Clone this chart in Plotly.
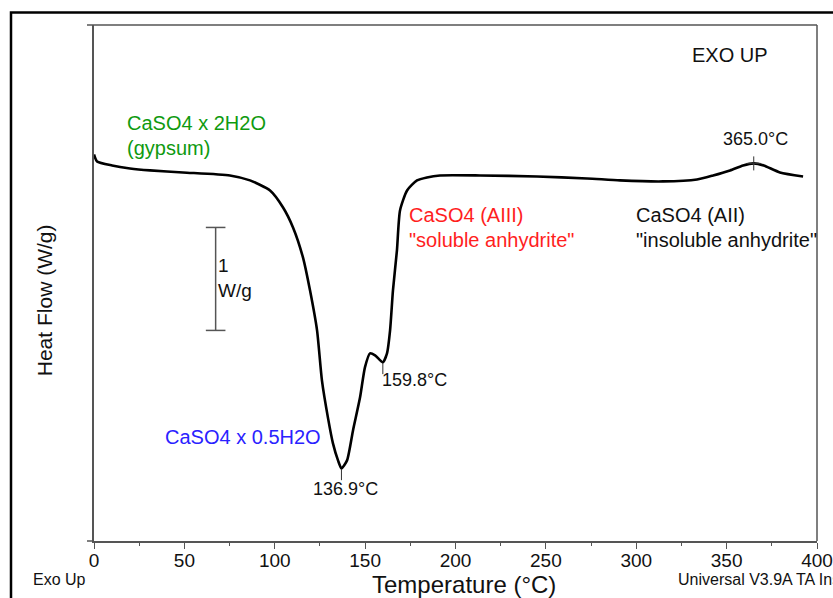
import plotly.graph_objects as go

# ---- data (temperature in °C, heat flow in W/g, arbitrary offset) ----
temperature = [0.0, 1.7, 10.0, 19.9, 31.0, 49.2, 75.2, 86.3, 97.4, 104.6, 110.1, 115.6, 119.5,
               123.4, 126.1, 129.5, 132.2, 135.0, 136.9, 140.0, 143.3, 147.2, 149.9, 152.7,
               155.5, 159.8, 162.1, 163.8, 165.4, 167.6, 169.3, 173.2, 178.7, 184.2, 191.4,
               213.6, 245.1, 272.8, 291.0, 314.8, 333.6, 342.5, 351.9, 359.1, 365.0, 370.5,
               379.5, 392.3]
heat_flow = [0.233, 0.165, 0.126, 0.097, 0.078, 0.058, 0.029, -0.019, -0.117, -0.282, -0.476,
             -0.767, -1.087, -1.476, -1.961, -2.330, -2.573, -2.738, -2.816, -2.738, -2.447,
             -2.126, -1.835, -1.699, -1.718, -1.786, -1.699, -1.476, -1.087, -0.699, -0.311,
             -0.117, -0.019, 0.010, 0.029, 0.029, 0.019, 0.000, -0.019, -0.029, -0.010, 0.029,
             0.078, 0.126, 0.146, 0.126, 0.058, 0.019]

peak_T = [136.9, 159.8, 365.0]
peak_HF = [-2.816, -1.786, 0.146]
peak_labels = ["136.9°C", "159.8°C", "365.0°C"]

scale_T = [67.3, 67.3]
scale_HF = [-0.476, -1.476]   # 1 W/g scale bar

x_ticks = [0, 50, 100, 150, 200, 250, 300, 350, 400]
x_minor = [25, 75, 125, 175, 225, 275, 325, 375]
x_range = [0, 400]
y_range = [-3.521, 1.490]

FONT = "Liberation Sans, Arial, sans-serif"
AX = "#555555"

W, H = 833, 598
L, R, T, B = 94, 817, 24.5, 541


def px(x):
    return (x - L) / (R - L)


def py(y):
    return (B - y) / (B - T)


fig = go.Figure()

fig.add_trace(go.Scatter(x=temperature, y=heat_flow, mode="lines",
                         line=dict(color="black", width=2.6, shape="spline", smoothing=0.6),
                         hoverinfo="x+y", showlegend=False))

# peak markers
fig.add_trace(go.Scatter(x=peak_T[2:], y=peak_HF[2:], mode="markers",
                         marker=dict(symbol="cross-thin", size=10, line=dict(color="#333", width=1)),
                         showlegend=False, hoverinfo="skip"))
fig.add_trace(go.Scatter(x=peak_T[:2], y=[v - 0.06 for v in peak_HF[:2]], mode="markers",
                         marker=dict(symbol="line-ns", size=8, line=dict(color="#333", width=1)),
                         showlegend=False, hoverinfo="skip"))

# scale bar
fig.add_trace(go.Scatter(x=scale_T, y=scale_HF, mode="lines+markers",
                         line=dict(color=AX, width=1.5),
                         marker=dict(symbol="line-ew", size=14, line=dict(color=AX, width=1.5)),
                         showlegend=False, hoverinfo="skip"))

ann = []


def text(x, y, s, color="#111", size=18, xanchor="left"):
    ann.append(dict(x=px(x), y=py(y), xref="paper", yref="paper", text=s, showarrow=False,
                    xanchor=xanchor, yanchor="middle", font=dict(family=FONT, size=size, color=color)))


GREEN = "#0f9a0f"
BLUE = "#2a22ff"
RED = "#ff1e1e"

text(125, 123, "CaSO4 x 2H2O", GREEN, 20)
text(125, 148, "(gypsum)", GREEN, 20)
text(163, 437, "CaSO4 x 0.5H2O", BLUE, 20)
text(407, 215, "CaSO4 (AIII)", RED, 20)
text(407, 240, "\"soluble anhydrite\"", RED, 20)
text(634, 215, "CaSO4 (AII)", "#111", 20)
text(634, 240, "\"insoluble anhydrite\"", "#111", 20)
text(690, 55, "EXO UP", "#111", 20)
text(755, 139, peak_labels[2], "#111", 18, "center")
text(380, 380, peak_labels[1], "#111", 18)
text(345, 489, peak_labels[0], "#111", 18, "center")
text(216, 265, "1", "#111", 19)
text(216, 290, "W/g", "#111", 19)
text(31, 580, "Exo Up", "#111", 16)
text(676, 580, "Universal V3.9A TA Instruments", "#111", 16)
ann.append(dict(x=px(44), y=py(300), xref="paper", yref="paper", text="Heat Flow (W/g)",
                showarrow=False, textangle=-90, xanchor="center", yanchor="middle",
                font=dict(family=FONT, size=21, color="#111")))
ann.append(dict(x=px(464), y=py(585), xref="paper", yref="paper", text="Temperature (°C)",
                showarrow=False, xanchor="center", yanchor="middle",
                font=dict(family=FONT, size=24, color="#111")))

shapes = [
    # outer black frame
    dict(type="rect", xref="paper", yref="paper", x0=px(11), x1=px(845), y0=py(620), y1=py(12),
         line=dict(color="black", width=2.5)),
    # plot-area border with small overhang on the left
    dict(type="line", xref="paper", yref="paper", x0=px(87), x1=1, y0=1, y1=1,
         line=dict(color=AX, width=1.5)),
    dict(type="line", xref="paper", yref="paper", x0=px(87), x1=0, y0=0, y1=0,
         line=dict(color=AX, width=1.5)),
    dict(type="line", xref="paper", yref="paper", x0=1, x1=1, y0=0, y1=1,
         line=dict(color=AX, width=1.5)),
]

fig.update_layout(
    width=W, height=H,
    margin=dict(l=L, r=W - R, t=T, b=H - B),
    paper_bgcolor="white", plot_bgcolor="white",
    annotations=ann, shapes=shapes,
    font=dict(family=FONT, color="#111"),
    xaxis=dict(range=x_range, tickvals=x_ticks, ticks="outside", ticklen=6, tickwidth=1.2,
               tickcolor=AX, showline=True, linecolor=AX, linewidth=1.5, showgrid=False,
               zeroline=False, tickfont=dict(size=19, family=FONT, color="#111"),
               ticklabelstandoff=-5, automargin=False,
               minor=dict(tickvals=x_minor, ticks="outside",
                          ticklen=3, tickcolor=AX, tickwidth=1.2)),
    yaxis=dict(range=y_range, showticklabels=False, ticks="", showline=True, linecolor=AX,
               linewidth=1.5, showgrid=False, zeroline=False, automargin=False),
)

fig.write_html("out.html", config={"displayModeBar": False},
               post_script="document.body.style.margin='0px';document.body.style.overflow='hidden';")
